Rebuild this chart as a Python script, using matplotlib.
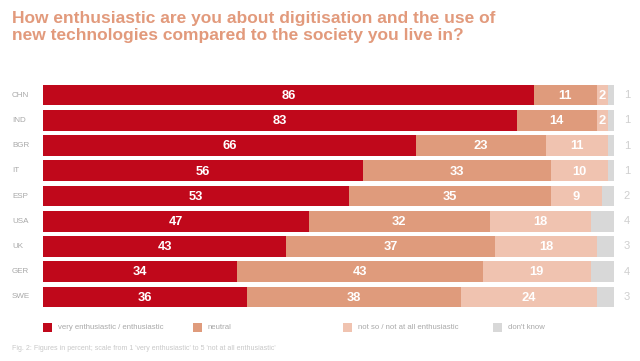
import matplotlib.pyplot as plt
from matplotlib.patches import Rectangle
import numpy as np

# data
countries = ["CHN", "IND", "BGR", "IT", "ESP", "USA", "UK", "GER", "SWE"]
enthusiastic = [86, 83, 66, 56, 53, 47, 43, 34, 36]
neutral = [11, 14, 23, 33, 35, 32, 37, 43, 38]
not_enthusiastic = [2, 2, 11, 10, 9, 18, 18, 19, 24]
dont_know = [1, 1, 1, 1, 2, 4, 3, 4, 3]
series_names = ["very enthusiastic / enthusiastic", "neutral",
                "not so / not at all enthusiastic", "don't know"]
colors = ["#C0081B", "#DF9B7C", "#F0C3B0", "#D8D8D8"]

plt.rcParams['font.family'] = ["Liberation Sans", "DejaVu Sans"]

W, H = 640, 361
fig = plt.figure(figsize=(W / 100, H / 100), dpi=100)

def fx(px):
    return px / W

def fy(py):
    return 1 - py / H

ax = fig.add_axes([fx(43), fy(309.6), fx(614) - fx(43), 227.2 / H])

data = np.array([enthusiastic, neutral, not_enthusiastic, dont_know], dtype=float)
totals = data.sum(axis=0)
scaled = data / totals * 100
y = np.arange(len(countries))
left = np.zeros(len(countries))
for k in range(4):
    ax.barh(y, scaled[k], left=left, height=0.82, color=colors[k], edgecolor="none")
    if k < 3:
        for i in range(len(countries)):
            ax.text(left[i] + scaled[k][i] / 2, y[i] + 0.03, str(int(data[k][i])),
                    ha="center", va="center", color="white", fontsize=9.3,
                    fontweight="bold")
    left += scaled[k]

ax.set_xlim(0, 100)
ax.set_ylim(len(countries) - 0.5, -0.5)
ax.axis("off")

# country labels left, "don't know" values right
for i, c in enumerate(countries):
    ax.annotate(c, xy=(0, y[i]), xycoords=("axes fraction", "data"),
                xytext=(12 - 43, 0), textcoords="offset pixels",
                ha="left", va="center", fontsize=5.8, color="#A8A8A8")
    ax.annotate(str(dont_know[i]), xy=(1, y[i]), xycoords=("axes fraction", "data"),
                xytext=(627 - 614, 0), textcoords="offset pixels",
                ha="center", va="center", fontsize=8, color="#CFCFCF")

# title
fig.text(fx(12), fy(11), "How enthusiastic are you about digitisation and the use of\n"
         "new technologies compared to the society you live in?",
         ha="left", va="top", fontsize=12.5, fontweight="bold", color="#E29A7C",
         linespacing=1.18)

# legend
for k, name in enumerate(series_names):
    x0 = 43 + 150 * k
    fig.add_artist(Rectangle((fx(x0), fy(332)), 9 / W, 9 / H, transform=fig.transFigure,
                             color=colors[k], lw=0))
    fig.text(fx(x0 + 15), fy(327.5), name, ha="left", va="center", fontsize=5.6,
             color="#A8A8A8")

fig.text(fx(12), fy(349), "Fig. 2: Figures in percent; scale from 1 'very enthusiastic' "
         "to 5 'not at all enthusiastic'", ha="left", va="center", fontsize=5.0,
         color="#C8C8C8")

fig.savefig("out.png", dpi=100, facecolor="white")
